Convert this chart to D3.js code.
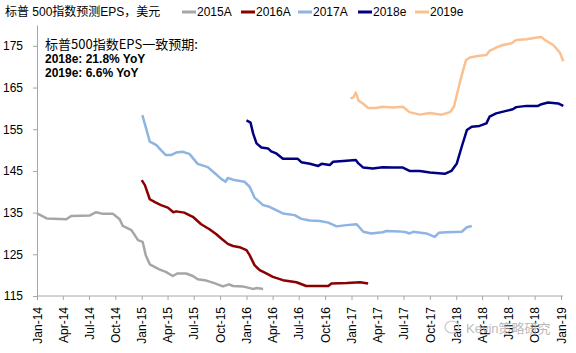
<!DOCTYPE html>
<html>
<head>
<meta charset="utf-8">
<script src="https://cdn.jsdelivr.net/npm/d3@7"></script>
<style>
    body { margin: 0; background: #fff; }
    svg { font-family: "Liberation Sans", Arial, "Noto Sans CJK SC", sans-serif; }
    .axis path, .axis line { stroke: #a6a6a6; }
    .axis text { fill: #000; font-size: 12px; }
</style>
</head>
<body>
<svg id="chart"></svg>
<script>
// Consensus EPS estimates, weekly-ish readings
const seriesNames = ['2015A', '2016A', '2017A', '2018e', '2019e'];

const eps2015A = [
    ['2014-01-01', 134.8], ['2014-02-04', 133.6], ['2014-04-13', 133.4], ['2014-04-30', 134.2],
    ['2014-07-03', 134.3], ['2014-07-26', 135.1], ['2014-08-19', 134.7], ['2014-09-23', 134.7],
    ['2014-10-16', 133.4], ['2014-10-27', 131.8], ['2014-11-26', 130.8], ['2014-12-19', 128.4],
    ['2015-01-04', 128.0], ['2015-01-15', 124.8], ['2015-01-29', 122.6], ['2015-03-03', 121.4],
    ['2015-03-26', 120.8], ['2015-04-19', 119.8], ['2015-05-06', 120.4], ['2015-06-05', 120.4],
    ['2015-06-28', 119.8], ['2015-07-15', 119.0], ['2015-08-14', 118.7], ['2015-09-06', 118.2],
    ['2015-10-11', 117.3], ['2015-11-01', 117.8], ['2015-11-15', 117.4], ['2015-12-19', 117.3],
    ['2016-01-23', 116.7], ['2016-02-06', 116.9], ['2016-02-28', 116.7]
];

const eps2016A = [
    ['2015-01-01', 142.8], ['2015-01-12', 141.6], ['2015-01-29', 138.2], ['2015-02-16', 137.5],
    ['2015-03-09', 136.8], ['2015-04-02', 136.2], ['2015-04-21', 135.1], ['2015-05-01', 135.3],
    ['2015-05-29', 135.0], ['2015-06-28', 134.0], ['2015-07-27', 132.2], ['2015-08-25', 131.0],
    ['2015-09-18', 129.8], ['2015-10-05', 128.8], ['2015-10-28', 127.5], ['2015-11-15', 127.0],
    ['2015-12-08', 126.7], ['2016-01-01', 126.0], ['2016-01-12', 124.8], ['2016-01-29', 122.4],
    ['2016-02-16', 121.2], ['2016-03-10', 120.4], ['2016-04-02', 119.6], ['2016-05-07', 118.8],
    ['2016-06-23', 118.3], ['2016-07-27', 117.4], ['2016-09-13', 117.4], ['2016-10-12', 117.4],
    ['2016-10-23', 118.0], ['2016-12-15', 118.1], ['2017-01-31', 118.3], ['2017-02-28', 118.0]
];

const eps2017A = [
    ['2015-01-03', 158.4], ['2015-01-18', 154.8], ['2015-01-29', 152.0], ['2015-02-10', 151.6],
    ['2015-02-21', 151.2], ['2015-03-09', 150.0], ['2015-03-26', 148.8], ['2015-04-13', 148.8],
    ['2015-05-01', 149.4], ['2015-05-23', 149.6], ['2015-06-16', 149.1], ['2015-07-15', 146.7],
    ['2015-08-19', 145.9], ['2015-09-12', 144.5], ['2015-10-05', 143.1], ['2015-10-20', 142.4],
    ['2015-10-28', 143.3], ['2015-11-20', 142.8], ['2015-12-25', 142.4], ['2016-01-12', 141.2],
    ['2016-01-29', 138.6], ['2016-02-28', 136.8], ['2016-03-21', 136.4], ['2016-05-07', 134.8],
    ['2016-06-17', 134.4], ['2016-07-10', 133.5], ['2016-08-09', 133.1], ['2016-09-13', 133.0],
    ['2016-10-12', 132.6], ['2016-11-10', 131.7], ['2016-12-15', 132.0], ['2017-01-19', 132.2],
    ['2017-02-11', 130.4], ['2017-03-10', 130.0], ['2017-04-20', 130.3], ['2017-05-02', 130.6],
    ['2017-06-18', 130.5], ['2017-07-10', 130.3], ['2017-07-22', 130.0], ['2017-08-04', 130.4],
    ['2017-09-19', 130.0], ['2017-10-18', 129.2], ['2017-11-02', 130.2], ['2017-11-28', 130.3],
    ['2018-01-20', 130.4], ['2018-02-07', 131.5], ['2018-02-24', 131.8]
];

const eps2018e = [
    ['2016-01-01', 157.1], ['2016-01-15', 156.6], ['2016-01-24', 154.0], ['2016-02-05', 151.6],
    ['2016-02-22', 150.6], ['2016-03-16', 150.4], ['2016-03-27', 149.7], ['2016-04-14', 149.2],
    ['2016-05-07', 147.9], ['2016-06-11', 147.9], ['2016-06-28', 147.9], ['2016-07-10', 147.1],
    ['2016-08-09', 146.7], ['2016-09-07', 146.2], ['2016-09-19', 146.7], ['2016-10-17', 146.4],
    ['2016-10-29', 147.2], ['2016-12-03', 147.4], ['2017-01-16', 147.6], ['2017-01-25', 146.8],
    ['2017-02-11', 145.8], ['2017-03-16', 145.6], ['2017-04-20', 145.9], ['2017-05-25', 145.8],
    ['2017-06-29', 145.8], ['2017-07-22', 145.0], ['2017-08-27', 145.0], ['2017-10-01', 144.6],
    ['2017-11-22', 144.3], ['2017-12-15', 145.0], ['2018-01-03', 146.8], ['2018-01-20', 150.8],
    ['2018-02-07', 154.8], ['2018-02-24', 155.6], ['2018-03-23', 155.8], ['2018-04-16', 156.4],
    ['2018-04-27', 158.0], ['2018-05-20', 158.8], ['2018-06-24', 159.4], ['2018-07-17', 159.8],
    ['2018-07-29', 160.3], ['2018-09-03', 160.6], ['2018-10-13', 160.6], ['2018-10-25', 161.0],
    ['2018-11-17', 161.4], ['2018-12-22', 161.2], ['2019-01-09', 160.6]
];

const eps2019e = [
    ['2016-12-28', 162.4], ['2017-01-07', 162.6], ['2017-01-16', 163.8], ['2017-01-25', 161.9],
    ['2017-02-11', 161.1], ['2017-02-28', 160.1], ['2017-03-28', 160.1], ['2017-04-20', 160.4],
    ['2017-05-25', 160.2], ['2017-06-29', 160.4], ['2017-07-22', 159.1], ['2017-08-27', 158.5],
    ['2017-10-01', 158.9], ['2017-11-11', 158.5], ['2017-12-10', 159.1], ['2017-12-24', 160.4],
    ['2018-01-14', 166.4], ['2018-02-04', 171.6], ['2018-02-18', 172.2], ['2018-03-23', 172.6],
    ['2018-04-16', 172.8], ['2018-04-27', 173.8], ['2018-05-20', 174.6], ['2018-06-13', 175.2],
    ['2018-07-12', 175.6], ['2018-07-29', 176.4], ['2018-09-03', 176.6], ['2018-10-08', 177.0],
    ['2018-10-25', 177.1], ['2018-11-06', 176.4], ['2018-12-05', 175.2], ['2018-12-28', 173.4],
    ['2019-01-09', 171.3]
];

const yTicks = [115, 125, 135, 145, 155, 165, 175];
const titleText = '标普 500指数预测EPS，美元';
const noteLines = ['标普500指数EPS一致预期:', '2018e: 21.8% YoY', '2019e: 6.6% YoY'];

const allSeries = [eps2015A, eps2016A, eps2017A, eps2018e, eps2019e];

const parseDate = d3.timeParse('%Y-%m-%d');

const config = {
    width: 576,
    height: 353,
    margin: { top: 25, right: 15, bottom: 57, left: 37 }
};
const innerW = config.width - config.margin.left - config.margin.right;
const innerH = config.height - config.margin.top - config.margin.bottom;

const color = d3.scaleOrdinal()
    .domain(seriesNames)
    .range(['#a6a6a6', '#8b0000', '#8db4e2', '#000080', '#fac090']);

const svg = d3.select('#chart')
    .attr('width', config.width)
    .attr('height', config.height);

const chart = svg.append('g')
    .attr('transform', `translate(${config.margin.left},${config.margin.top})`);

const xScale = d3.scaleTime()
    .domain([parseDate('2014-01-01'), parseDate('2019-01-01')])
    .range([0, 524]);

const yScale = d3.scaleLinear()
    .domain([115, 180])
    .range([innerH, 0]);

// axes
const xAxis = d3.axisBottom(xScale)
    .ticks(d3.timeMonth.every(3))
    .tickFormat(d3.timeFormat('%b-%y'))
    .tickSize(4)
    .tickSizeOuter(0);

const yAxis = d3.axisLeft(yScale)
    .tickValues(yTicks)
    .tickSize(4)
    .tickSizeOuter(0);

const yAxisG = chart.append('g')
    .attr('class', 'axis')
    .call(yAxis);
yAxisG.selectAll('text').attr('x', -14);

const xAxisG = chart.append('g')
    .attr('class', 'axis')
    .attr('transform', `translate(0,${innerH})`)
    .call(xAxis);
xAxisG.select('.domain').attr('d', `M0,0H526`);
xAxisG.selectAll('text')
    .attr('transform', 'rotate(-90)')
    .attr('text-anchor', 'end')
    .attr('x', -11)
    .attr('y', 0)
    .attr('dy', '0.35em');

// lines
const line = d3.line()
    .x(d => xScale(parseDate(d[0])))
    .y(d => yScale(d[1]));

chart.selectAll('.eps-line')
    .data(allSeries)
    .join('path')
    .attr('class', 'eps-line')
    .attr('fill', 'none')
    .attr('stroke', (d, i) => color(seriesNames[i]))
    .attr('stroke-width', 2.5)
    .attr('stroke-linejoin', 'round')
    .attr('d', line);

// title + legend
svg.append('text')
    .attr('x', 5)
    .attr('y', 16)
    .attr('font-size', 12)
    .text(titleText);

const legendX = [182, 241, 298, 358, 415];
const legend = svg.selectAll('.legend')
    .data(seriesNames)
    .join('g')
    .attr('class', 'legend')
    .attr('transform', (d, i) => `translate(${legendX[i]},12)`);
legend.append('line')
    .attr('x1', 0).attr('x2', 14)
    .attr('stroke', d => color(d))
    .attr('stroke-width', 3);
legend.append('text')
    .attr('x', 15)
    .attr('dy', '0.35em')
    .attr('font-size', 12)
    .text(d => d);

// annotation
svg.selectAll('.note')
    .data(noteLines)
    .join('text')
    .attr('class', 'note')
    .attr('x', 45)
    .attr('y', (d, i) => 49 + i * 14)
    .attr('font-size', (d, i) => i === 0 ? 13 : 12)
    .attr('font-weight', (d, i) => i === 0 ? 'normal' : 'bold')
    .attr('font-family', (d, i) => i === 0 ? '"Noto Sans CJK SC", sans-serif' : null)
    .text(d => d);

// watermark
svg.append('text')
    .attr('x', 466)
    .attr('y', 333)
    .attr('font-size', 13)
    .attr('fill', '#b0b0b0')
    .attr('opacity', 0.85)
    .text('Kevin策略研究');
svg.append('ellipse')
    .attr('cx', 452).attr('cy', 327)
    .attr('rx', 7).attr('ry', 6)
    .attr('fill', 'none')
    .attr('stroke', '#c8c8c8')
    .attr('stroke-width', 1.2);
</script>
</body>
</html>
